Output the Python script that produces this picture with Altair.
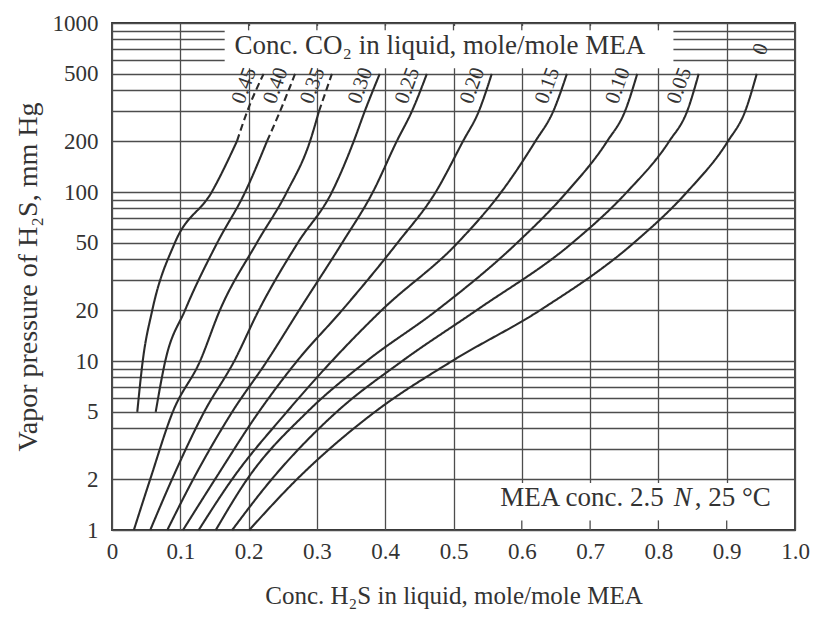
import altair as alt
import pandas as pd

FONT = "Liberation Serif"
INK = "#333333"
GRID = "#4d4d4d"

# ---- data ----
co2_levels = ["0.45", "0.40", "0.35", "0.30", "0.25", "0.20", "0.15", "0.10", "0.05", "0"]

# vapor pressure (mm Hg) at which each H2S loading was read
p_short = [5, 10, 20, 50, 100, 200, 300, 500]
p_full = [1, 2, 5, 10, 20, 50, 100, 200, 300, 500]

# H2S loading (mole/mole MEA) for each curve
x_045 = [0.037, 0.045, 0.059, 0.092, 0.146, 0.183, 0.198, 0.222]
x_040 = [0.064, 0.078, 0.107, 0.154, 0.195, 0.227, 0.246, 0.268]
x_035 = [0.032, 0.056, 0.089, 0.129, 0.158, 0.212, 0.256, 0.290, 0.303, 0.322]
x_030 = [0.056, 0.088, 0.135, 0.179, 0.215, 0.272, 0.322, 0.354, 0.370, 0.392]
x_025 = [0.081, 0.119, 0.176, 0.227, 0.274, 0.337, 0.382, 0.417, 0.439, 0.461]
x_020 = [0.104, 0.151, 0.215, 0.271, 0.337, 0.418, 0.474, 0.514, 0.537, 0.556]
x_015 = [0.127, 0.176, 0.256, 0.322, 0.395, 0.506, 0.570, 0.620, 0.646, 0.666]
x_010 = [0.152, 0.198, 0.286, 0.373, 0.476, 0.593, 0.666, 0.725, 0.751, 0.769]
x_005 = [0.176, 0.234, 0.329, 0.425, 0.534, 0.674, 0.754, 0.816, 0.842, 0.859]
x_000 = [0.201, 0.271, 0.385, 0.498, 0.627, 0.764, 0.842, 0.902, 0.927, 0.944]

# extrapolated (dashed) portions start at these pressures
dash_start = {"0.45": 200, "0.40": 200, "0.35": 300}

x_ticks = [0, 0.1, 0.2, 0.3, 0.4, 0.5, 0.6, 0.7, 0.8, 0.9, 1.0]
y_grid = [1, 2, 3, 4, 5, 6, 7, 8, 9, 10, 20, 30, 40, 50, 60, 70, 80, 90,
          100, 200, 300, 400, 500, 600, 700, 800, 900, 1000]
y_labels = [1, 2, 5, 10, 20, 50, 100, 200, 500, 1000]

series = [
    ("0.45", x_045, p_short), ("0.40", x_040, p_short), ("0.35", x_035, p_full),
    ("0.30", x_030, p_full), ("0.25", x_025, p_full), ("0.20", x_020, p_full),
    ("0.15", x_015, p_full), ("0.10", x_010, p_full), ("0.05", x_005, p_full),
    ("0", x_000, p_full),
]

rows = []
for name, xs, ps in series:
    thr = dash_start.get(name)
    for x, p in zip(xs, ps):
        if thr is None or p <= thr:
            rows.append({"curve": name, "seg": "solid", "key": name + "-s", "x": x, "p": p})
        if thr is not None and p >= thr:
            rows.append({"curve": name, "seg": "dashed", "key": name + "-d", "x": x, "p": p})
curves = pd.DataFrame(rows)

# curve labels placed beside the top end of each curve
lab_rows = []
for name, xs, ps in series:
    if name == "0":
        lab_rows.append({"t": name, "x": xs[-1] + 0.006, "p": 700})
    else:
        lab_rows.append({"t": name, "x": xs[-1] - 0.028, "p": 425})
labels = pd.DataFrame(lab_rows)

label_expr_y = ("indexof(" + str(y_labels).replace(" ", "") +
                ", datum.value) >= 0 ? format(datum.value, 'd') : ''")

xs_ = alt.Scale(domain=[0, 1], nice=False, zero=False)
ys_ = alt.Scale(type="log", domain=[1, 1000], nice=False)

x_axis = alt.Axis(
    values=x_ticks,
    labelExpr="datum.value == 0 ? '0' : format(datum.value, '.1f')",
    grid=True, gridColor=GRID, gridWidth=1.3, ticks=False, domain=False,
    labelFont=FONT, labelFontSize=23, labelColor=INK, labelPadding=10,
    labelFlush=False, labelOverlap=False,
    title="Conc. H₂S in liquid, mole/mole MEA", titleFont=FONT, titleFontSize=25,
    titleFontWeight="normal", titleColor=INK, titlePadding=20,
)
y_axis = alt.Axis(
    values=y_grid,
    labelExpr=label_expr_y,
    grid=True, gridColor=GRID, gridWidth=1.3, ticks=False, domain=False,
    labelFont=FONT, labelFontSize=23, labelColor=INK, labelPadding=14,
    labelOverlap=False,
    title="Vapor pressure of H₂S, mm Hg", titleFont=FONT, titleFontSize=28,
    titleFontWeight="normal", titleColor=INK, titlePadding=10,
)


def X(field):
    return alt.X(field, type="quantitative", scale=xs_, axis=x_axis)


def Y(field):
    return alt.Y(field, type="quantitative", scale=ys_, axis=y_axis)


# white label boxes that interrupt the grid
boxes = pd.DataFrame({
    "x": [0.165, 0.505], "x2": [0.822, 0.997],
    "p": [540, 1.015], "p2": [960, 1.9],
})
box_layer = alt.Chart(boxes).mark_rect(color="white").encode(
    x=X("x"), x2="x2:Q", y=Y("p"), y2="p2:Q",
)

# short grid stubs left visible inside the boxes
stubs = pd.DataFrame({
    "x": [0.2, 0.3, 0.4, 0.5, 0.6, 0.7, 0.8, 0.6, 0.7, 0.8, 0.9],
    "p": [1000] * 7 + [1.0] * 4,
    "p2": [905] * 7 + [1.14] * 4,
})
stub_layer = alt.Chart(stubs).mark_rule(color=GRID, strokeWidth=1.3).encode(
    x=X("x"), y=Y("p"), y2="p2:Q",
)

line_layer = alt.Chart(curves).mark_line(
    color="#2b2b2b", strokeWidth=2.1, interpolate="monotone"
).encode(
    x=X("x"),
    y=Y("p"),
    detail="key:N",
    strokeDash=alt.StrokeDash(
        "seg:N", scale=alt.Scale(domain=["solid", "dashed"], range=[[1, 0], [7, 4]]), legend=None
    ),
    order="p:Q",
)

label_layer = alt.Chart(labels).mark_text(
    font=FONT, fontSize=21, color=INK, angle=290, align="center", baseline="middle"
).encode(x=X("x"), y=Y("p"), text="t:N")

notes = pd.DataFrame({"x": [0.48], "p": [730], "t": ["Conc. CO₂ in liquid, mole/mole MEA"]})
co2_text = alt.Chart(notes).mark_text(
    font=FONT, fontSize=27, color=INK, align="center", baseline="middle"
).encode(x=X("x"), y=Y("p"), text="t:N")

mea = pd.DataFrame({"x": [0.862], "p": [1.55]})
mea_base = alt.Chart(mea).encode(x=X("x"), y=Y("p"))
mea1 = mea_base.mark_text(font=FONT, fontSize=27, color=INK, align="right", baseline="middle",
                          dx=-37, text="MEA conc. 2.5")
mea2 = mea_base.mark_text(font=FONT, fontSize=27, color=INK, align="right", baseline="middle",
                          dx=-9, fontStyle="italic", text="N")
mea3 = mea_base.mark_text(font=FONT, fontSize=27, color=INK, align="left", baseline="middle",
                          dx=-6, text=", 25 °C")

chart = alt.layer(
    box_layer, stub_layer, line_layer, label_layer, co2_text, mea1, mea2, mea3
).properties(
    width=683, height=507,
    autosize=alt.AutoSizeParams(type="none"),
    padding={"left": 104, "top": 15, "right": 15, "bottom": 80},
    background="white",
).configure_view(stroke="#333333", strokeWidth=1.8)

chart.save("out.html", embed_options={"renderer": "svg", "actions": False})
